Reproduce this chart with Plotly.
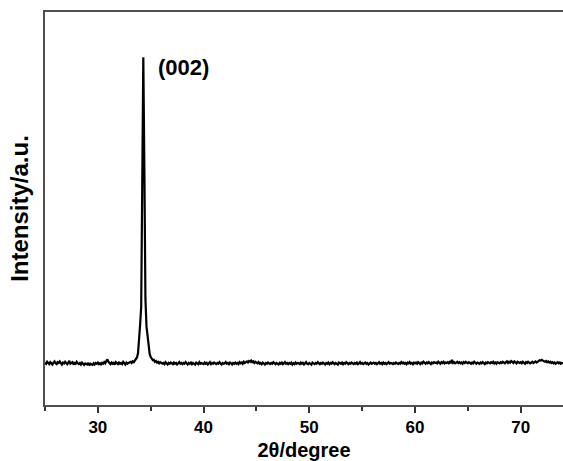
import numpy as np
import plotly.graph_objects as go

# XRD pattern, 2theta from 25.0 to 74.0 in 0.1 degree steps (arbitrary units)
theta_start = 25.0
theta_step = 0.1

intensity = [
    108, 105, 110, 106, 104, 109, 107, 103, 108, 111,  # 25
    106, 104, 109, 107, 111, 105, 103, 108, 106, 110,  # 26
    107, 104, 108, 112, 105, 106, 109, 103, 107, 105,  # 27
    110, 106, 104, 107, 103, 108, 105, 102, 106, 104,  # 28
    103, 107, 101, 105, 104, 102, 106, 103, 107, 105,  # 29
    108, 104, 106, 103, 107, 105, 109, 106, 112, 116,  # 30
    110, 106, 104, 108, 105, 107, 103, 109, 106, 104,  # 31
    108, 105, 107, 104, 110, 106, 103, 108, 105, 107,  # 32
    108, 110, 107, 111, 109, 113, 115, 121, 132, 160,  # 33
    205, 250, 540, 885, 600, 270, 200, 170, 142, 130,  # 34
    122, 118, 114, 115, 110, 112, 108, 110, 106, 109,  # 35
    108, 105, 107, 104, 109, 106, 103, 107, 105, 108,  # 36
    106, 104, 108, 105, 107, 103, 106, 109, 105, 107,  # 37
    104, 107, 105, 109, 106, 103, 107, 105, 108, 104,  # 38
    107, 105, 103, 108, 106, 104, 109, 105, 107, 106,  # 39
    104, 108, 105, 107, 103, 106, 109, 104, 107, 105,  # 40
    108, 106, 104, 107, 105, 109, 106, 103, 107, 105,  # 41
    106, 109, 105, 107, 104, 108, 106, 103, 107, 105,  # 42
    108, 105, 107, 104, 109, 106, 108, 105, 110, 107,  # 43
    109, 111, 108, 112, 110, 113, 109, 111, 107, 110,  # 44
    108, 106, 109, 105, 107, 104, 108, 106, 103, 107,  # 45
    105, 108, 106, 104, 107, 105, 109, 106, 104, 107,  # 46
    106, 103, 107, 105, 108, 104, 106, 109, 105, 107,  # 47
    104, 107, 105, 108, 103, 106, 104, 108, 105, 107,  # 48
    106, 104, 108, 105, 107, 103, 106, 109, 105, 104,  # 49
    107, 105, 103, 108, 106, 104, 107, 105, 109, 106,  # 50
    104, 107, 105, 108, 106, 103, 107, 105, 108, 104,  # 51
    107, 105, 109, 106, 104, 107, 105, 103, 108, 106,  # 52
    105, 108, 104, 107, 105, 109, 106, 104, 107, 105,  # 53
    108, 106, 104, 107, 105, 108, 104, 106, 109, 105,  # 54
    107, 104, 106, 108, 105, 107, 103, 106, 108, 105,  # 55
    106, 108, 105, 107, 104, 106, 109, 105, 107, 104,  # 56
    108, 105, 107, 104, 106, 109, 105, 107, 106, 104,  # 57
    107, 105, 108, 106, 104, 107, 105, 109, 106, 108,  # 58
    105, 107, 104, 108, 106, 109, 105, 107, 104, 108,  # 59
    106, 108, 105, 109, 107, 104, 108, 106, 110, 107,  # 60
    105, 108, 106, 109, 107, 104, 108, 106, 109, 107,  # 61
    108, 106, 110, 107, 105, 109, 107, 110, 106, 108,  # 62
    107, 109, 106, 110, 108, 115, 107, 109, 106, 108,  # 63
    110, 107, 109, 106, 108, 105, 109, 107, 110, 108,  # 64
    106, 109, 107, 105, 108, 106, 110, 107, 105, 108,  # 65
    107, 105, 108, 106, 109, 107, 104, 108, 106, 109,  # 66
    108, 106, 109, 107, 110, 106, 108, 105, 109, 107,  # 67
    106, 109, 107, 110, 108, 106, 109, 111, 107, 110,  # 68
    108, 112, 110, 107, 111, 109, 106, 110, 108, 107,  # 69
    109, 106, 110, 108, 105, 109, 107, 110, 108, 106,  # 70
    108, 110, 107, 109, 111, 108, 110, 112, 114, 113,  # 71
    115, 113, 112, 110, 112, 109, 111, 108, 110, 107,  # 72
    109, 106, 108, 105, 107, 109, 106, 108, 105, 107,  # 73
    106,                                               # 74
]
two_theta = np.round(theta_start + theta_step * np.arange(len(intensity)), 1)

peak_label = "(002)"
peak_label_pos = (35.5, 858)

font_family = "Arial, Liberation Sans, sans-serif"

fig = go.Figure()
fig.add_trace(
    go.Scatter(
        x=two_theta,
        y=intensity,
        mode="lines",
        line={"color": "black", "width": 2.2},
        showlegend=False,
    )
)
fig.add_annotation(
    text=f"<b>{peak_label}</b>",
    x=peak_label_pos[0],
    y=peak_label_pos[1],
    xanchor="left",
    yanchor="middle",
    showarrow=False,
    font={"family": font_family, "size": 22, "color": "black"},
)
fig.update_xaxes(
    range=[25, 74],
    tickvals=[30, 40, 50, 60, 70],
    ticks="outside",
    ticklen=6,
    tickwidth=1.5,
    tickcolor="#333",
    tickfont={"family": font_family, "size": 17, "color": "black", "weight": "bold"},
    minor={"ticks": "outside", "ticklen": 4, "tickwidth": 1.5, "tickcolor": "#333", "tickvals": [25, 35, 45, 55, 65]},
    showline=True,
    linecolor="#505050",
    linewidth=2,
    mirror=True,
    showgrid=False,
    zeroline=False,
    title={
        "text": "<b>2θ/degree</b>",
        "font": {"family": font_family, "size": 20, "color": "black"},
        "standoff": 9,
    },
)
fig.update_yaxes(
    range=[0, 1000],
    showticklabels=False,
    ticks="",
    showline=True,
    linecolor="#505050",
    linewidth=2,
    mirror=False,
    showgrid=False,
    zeroline=False,
    title={
        "text": "<b>Intensity/a.u.</b>",
        "font": {"family": font_family, "size": 24, "color": "black"},
        "standoff": 8,
    },
)
fig.update_layout(
    width=563,
    height=461,
    margin={"l": 45, "r": 0, "t": 12, "b": 56},
    plot_bgcolor="white",
    paper_bgcolor="white",
)
# drop the default 8px body margin so the figure sits at the page origin
fig.write_html(
    "out.html",
    config={"displayModeBar": False},
    post_script="document.body.style.margin = '0';",
)
